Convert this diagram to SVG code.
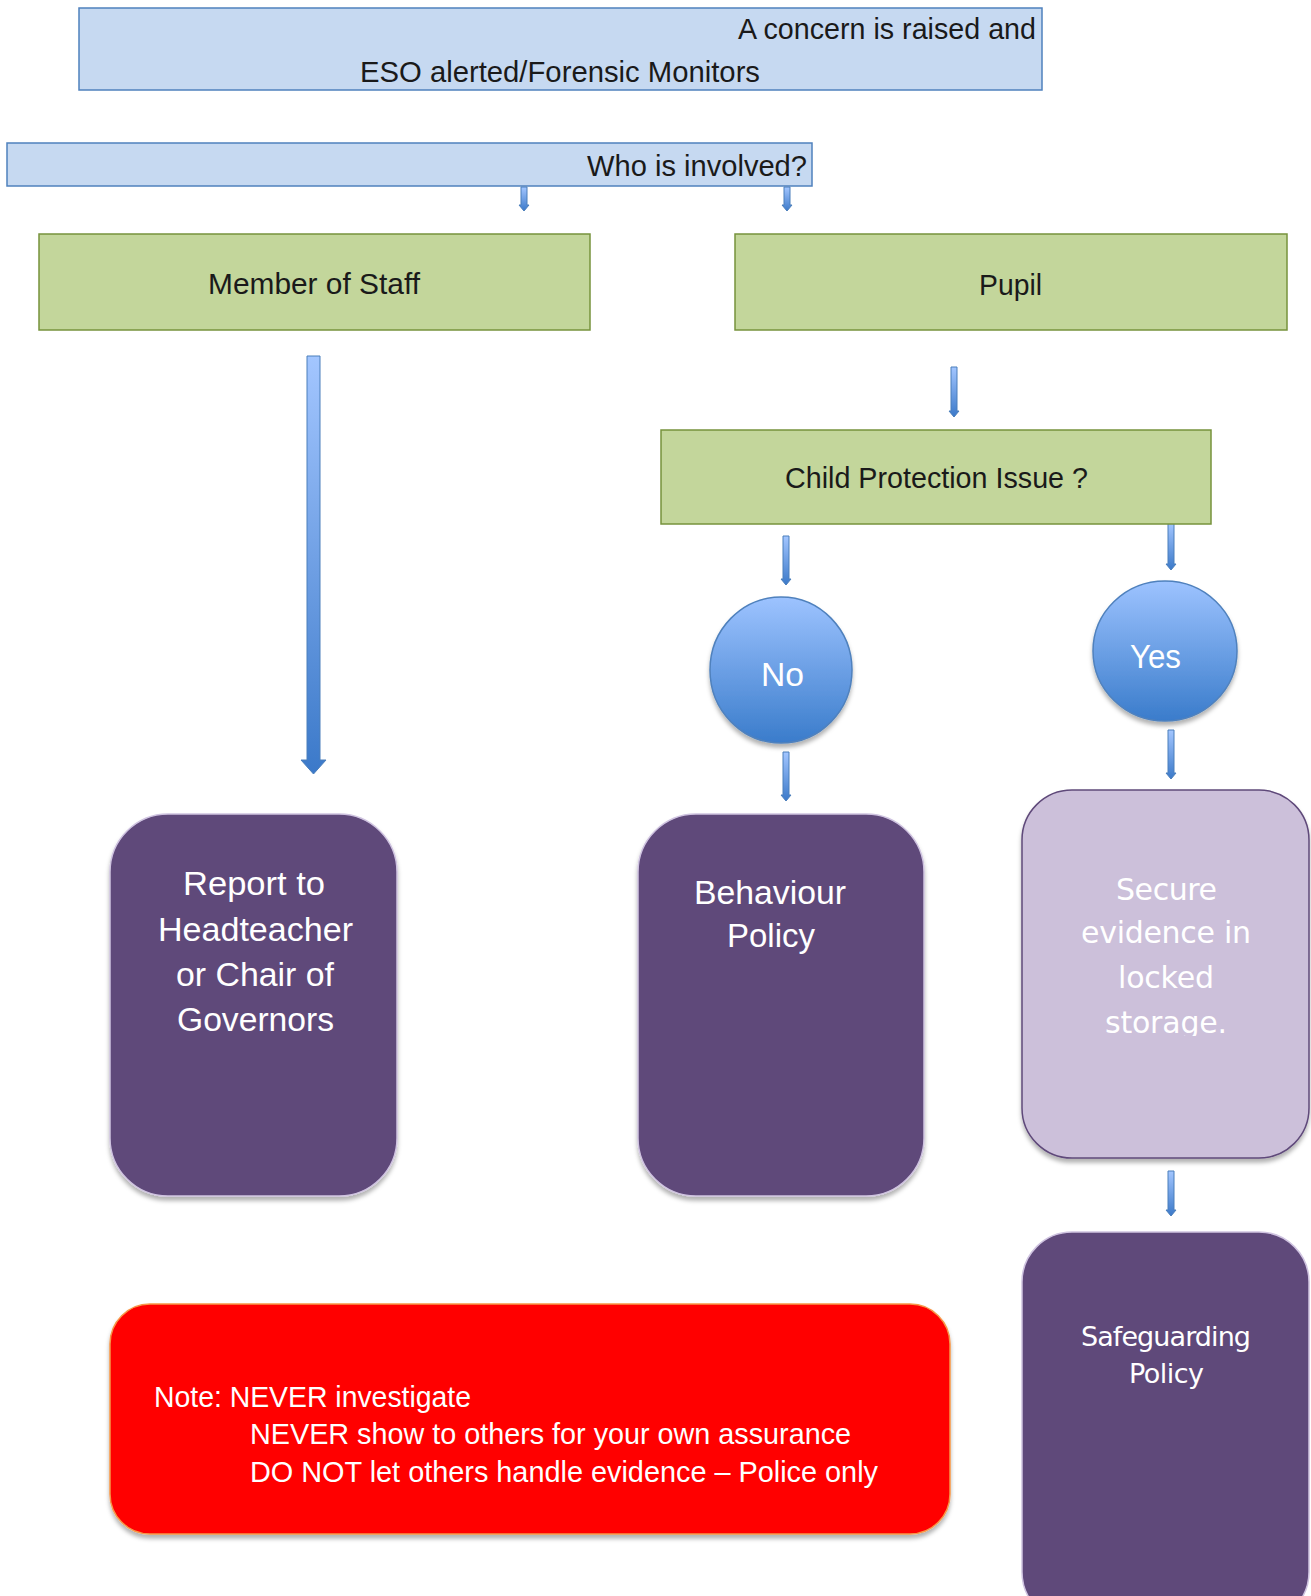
<svg xmlns="http://www.w3.org/2000/svg" width="1311" height="1596" viewBox="0 0 1311 1596">
<style>
.t{font-family:"Liberation Sans",Arial,sans-serif;}
.dark{fill:#1a1a1a;}
.white{fill:#ffffff;}
.blue{fill:#C6D9F1;stroke:#4F81BD;stroke-width:1.5;}
.green{fill:#C3D69B;stroke:#77933C;stroke-width:1.5;}
.purple{fill:#5F497A;stroke:#CFC3E0;stroke-width:1.5;}
.lilac{fill:#CCC0DA;stroke:#5F497A;stroke-width:1.5;}
.arr{fill:url(#ag);stroke:#4A7EBB;stroke-width:1;}
.wide{font-family:"DejaVu Sans","Open Sans",sans-serif;}
</style>
<defs>
<linearGradient id="ag" x1="0" y1="0" x2="0" y2="1">
<stop offset="0" stop-color="#A3C6FF"/>
<stop offset="1" stop-color="#3B79C9"/>
</linearGradient>
<linearGradient id="cg" x1="0" y1="0" x2="0" y2="1">
<stop offset="0" stop-color="#9DC3FF"/>
<stop offset="1" stop-color="#3A7CCB"/>
</linearGradient>
<filter id="sh" x="-10%" y="-10%" width="120%" height="120%">
<feDropShadow dx="0" dy="4" stdDeviation="2" flood-color="#000" flood-opacity="0.3"/>
</filter>
<clipPath id="secclip"><rect x="1021" y="790" width="288" height="246"/></clipPath>
</defs>

<g id="connectors">
<path class="arr" d="M521 187 H527 V205 H529 L524 211 L519 205 H521 Z"/>
<path class="arr" d="M784 187 H790 V205 H792 L787 211 L782 205 H784 Z"/>
<path class="arr" d="M307 356 H320 V760 H326 L313.5 774 L301 760 H307 Z"/>
<path class="arr" d="M951 367 H957 V411 H959 L954 417 L949 411 H951 Z"/>
<path class="arr" d="M783 536 H789 V579 H791 L786 585 L781 579 H783 Z"/>
<path class="arr" d="M1168 523 H1174 V564 H1176 L1171 570 L1166 564 H1168 Z"/>
<path class="arr" d="M783 752 H789 V795 H791 L786 801 L781 795 H783 Z"/>
<path class="arr" d="M1168 730 H1174 V773 H1176 L1171 779 L1166 773 H1168 Z"/>
<path class="arr" d="M1168 1171 H1174 V1210 H1176 L1171 1216 L1166 1210 H1168 Z"/>
</g>

<g id="concern">
<rect class="blue" x="79" y="8" width="963" height="82"/>
<text class="t dark" x="738" y="39" font-size="29" textLength="298" lengthAdjust="spacingAndGlyphs">A concern is raised and</text>
<text class="t dark" x="360" y="82" font-size="29" textLength="400" lengthAdjust="spacingAndGlyphs">ESO alerted/Forensic Monitors</text>
</g>

<g id="who">
<rect class="blue" x="7" y="143" width="805" height="43"/>
<text class="t dark" x="587" y="176" font-size="29" textLength="220" lengthAdjust="spacingAndGlyphs">Who is involved?</text>
</g>

<g id="staff">
<rect class="green" x="39" y="234" width="551" height="96"/>
<text class="t dark" x="208" y="294" font-size="29" textLength="212" lengthAdjust="spacingAndGlyphs">Member of Staff</text>
</g>

<g id="pupil">
<rect class="green" x="735" y="234" width="552" height="96"/>
<text class="t dark" x="979" y="295" font-size="29" textLength="63" lengthAdjust="spacingAndGlyphs">Pupil</text>
</g>

<g id="cpi">
<rect class="green" x="661" y="430" width="550" height="94"/>
<text class="t dark" x="785" y="488" font-size="29" textLength="303" lengthAdjust="spacingAndGlyphs">Child Protection Issue ?</text>
</g>

<g id="no">
<ellipse cx="781" cy="670" rx="71" ry="73" fill="url(#cg)" stroke="#4F81BD" stroke-width="1.5" filter="url(#sh)"/>
<text class="t white" x="761" y="686" font-size="33" textLength="43" lengthAdjust="spacingAndGlyphs">No</text>
</g>

<g id="yes">
<ellipse cx="1165" cy="651" rx="72" ry="70" fill="url(#cg)" stroke="#4F81BD" stroke-width="1.5" filter="url(#sh)"/>
<text class="t white" x="1130" y="668" font-size="33" textLength="51" lengthAdjust="spacingAndGlyphs">Yes</text>
</g>

<g id="report">
<rect class="purple" x="110" y="814" width="287" height="382" rx="58" ry="58" filter="url(#sh)"/>
<text class="t white" font-size="34">
<tspan x="183" y="895" textLength="142" lengthAdjust="spacingAndGlyphs">Report to</tspan>
<tspan x="158" y="941" textLength="195" lengthAdjust="spacingAndGlyphs">Headteacher</tspan>
<tspan x="176" y="986" textLength="158" lengthAdjust="spacingAndGlyphs">or Chair of</tspan>
<tspan x="177" y="1031" textLength="157" lengthAdjust="spacingAndGlyphs">Governors</tspan>
</text>
</g>

<g id="behaviour">
<rect class="purple" x="638" y="814" width="286" height="382" rx="58" ry="58" filter="url(#sh)"/>
<text class="t white" font-size="34">
<tspan x="694" y="904" textLength="152" lengthAdjust="spacingAndGlyphs">Behaviour</tspan>
<tspan x="727" y="947" textLength="88" lengthAdjust="spacingAndGlyphs">Policy</tspan>
</text>
</g>

<g id="secure">
<rect class="lilac" x="1022" y="790" width="287" height="368" rx="50" ry="50" filter="url(#sh)"/>
<g clip-path="url(#secclip)">
<text class="wide white" font-size="30">
<tspan x="1116" y="900" textLength="101">Secure</tspan>
<tspan x="1081" y="943" textLength="170">evidence in</tspan>
<tspan x="1118" y="988" textLength="96">locked</tspan>
<tspan x="1105" y="1033" textLength="122">storage.</tspan>
</text>
</g>
</g>

<g id="safeguarding">
<rect class="purple" x="1022" y="1232" width="287" height="390" rx="50" ry="50"/>
<text class="wide white" font-size="27">
<tspan x="1081" y="1346" textLength="170">Safeguarding</tspan>
<tspan x="1129" y="1383" textLength="75">Policy</tspan>
</text>
</g>

<g id="note">
<rect x="110" y="1304" width="840" height="230" rx="40" ry="40" fill="#FF0000" stroke="#F79646" stroke-width="1.5" filter="url(#sh)"/>
<text class="t white" font-size="30">
<tspan x="154" y="1407" textLength="317" lengthAdjust="spacingAndGlyphs">Note: NEVER investigate</tspan>
<tspan x="250" y="1444" textLength="601" lengthAdjust="spacingAndGlyphs">NEVER show to others for your own assurance</tspan>
<tspan x="250" y="1482" textLength="628" lengthAdjust="spacingAndGlyphs">DO NOT let others handle evidence – Police only</tspan>
</text>
</g>
</svg>
